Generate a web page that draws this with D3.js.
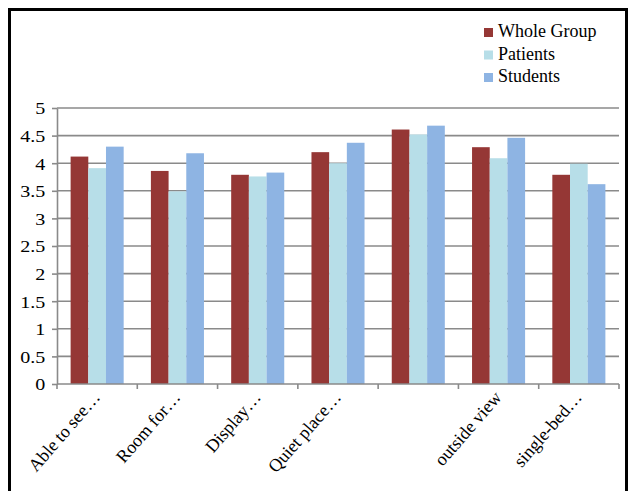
<!DOCTYPE html>
<html>
<head>
<meta charset="utf-8">
<title>Room preferences</title>
<script src="https://cdn.jsdelivr.net/npm/d3@7"></script>
<style type="text/css">
	body { margin: 0; background: #fff; }
	svg text { font-family: "Liberation Serif", "Times New Roman", serif; fill: #000; }
	.grid line { stroke: #8a8a8a; stroke-width: 1.6; }
	.axis path, .axis line { stroke: #8a8a8a; stroke-width: 1.6; }
</style>
</head>
<body>
<script type="text/javascript">
// data
var categories = ['Able to see\u2026', 'Room for\u2026', 'Display\u2026', 'Quiet place\u2026', '', 'outside view', 'single-bed\u2026'];
var seriesNames = ['Whole Group', 'Patients', 'Students'];
var wholeGroup = [4.12, 3.86, 3.79, 4.20, 4.61, 4.29, 3.79];
var patients   = [3.91, 3.49, 3.76, 4.00, 4.52, 4.09, 3.99];
var students   = [4.30, 4.18, 3.83, 4.37, 4.68, 4.46, 3.62];
var yTicks = [0, 0.5, 1, 1.5, 2, 2.5, 3, 3.5, 4, 4.5, 5];
var colors = ['#953735', '#b7dee8', '#8eb4e3'];

var width = 630, height = 491;
// plot box (window.top is reserved, so no "top" here)
var plotLeft = 57, plotRight = 619, plotTop = 108, plotBottom = 384;

var svg = d3.select('body').append('svg')
		.attr('width', width)
		.attr('height', height);

// outer frame, bottom edge runs off the picture
svg.append('rect')
	.attr('x', 9.5).attr('y', 9.5)
	.attr('width', 617).attr('height', 520)
	.attr('fill', 'none')
	.attr('stroke', '#000')
	.attr('stroke-width', 3);

var y = d3.scaleLinear().domain([0, 5]).range([plotBottom, plotTop]);
var x0 = d3.scaleBand().domain(d3.range(categories.length)).range([plotLeft, plotRight]).padding(0);
var x1 = d3.scaleBand().domain(d3.range(seriesNames.length)).range([0, x0.bandwidth()])
		.paddingInner(0).paddingOuter(0.77);

// gridlines
svg.append('g').attr('class', 'grid')
	.selectAll('line')
	.data(yTicks.filter(function(t){ return t > 0; }))
	.enter().append('line')
		.attr('x1', plotLeft).attr('x2', plotRight)
		.attr('y1', function(d){ return y(d); })
		.attr('y2', function(d){ return y(d); });

// bars
var table = categories.map(function(c, i){
	return [wholeGroup[i], patients[i], students[i]];
});

var groups = svg.append('g').selectAll('g')
		.data(table)
	.enter().append('g')
		.attr('transform', function(d, i){ return 'translate(' + x0(i) + ',0)'; });

groups.selectAll('rect')
		.data(function(d){ return d; })
	.enter().append('rect')
		.attr('x', function(d, j){ return x1(j); })
		.attr('width', x1.bandwidth())
		.attr('y', function(d){ return y(d); })
		.attr('height', function(d){ return plotBottom - y(d); })
		.attr('fill', function(d, j){ return colors[j]; });

// y axis
var yAxis = svg.append('g').attr('class', 'axis')
		.attr('transform', 'translate(' + plotLeft + ',0)')
		.call(d3.axisLeft(y).tickValues(yTicks).tickSize(5).tickSizeOuter(0)
			.tickFormat(function(d){ return d; }));
yAxis.selectAll('text')
	.style('font-size', '17px')
	.attr('x', -10)
	.attr('transform', 'scale(1.18,1)')
	.attr('dy', '0.35em');

// x axis: line + ticks at category boundaries
var xAxis = svg.append('g').attr('class', 'axis');
xAxis.append('line')
	.attr('x1', plotLeft).attr('x2', plotRight)
	.attr('y1', plotBottom).attr('y2', plotBottom);
xAxis.selectAll('line.tick')
		.data(d3.range(categories.length + 1))
	.enter().append('line')
		.attr('class', 'tick')
		.attr('x1', function(i){ return plotLeft + i * x0.step(); })
		.attr('x2', function(i){ return plotLeft + i * x0.step(); })
		.attr('y1', plotBottom).attr('y2', plotBottom + 5);

svg.append('g').selectAll('text')
		.data(categories)
	.enter().append('text')
		.attr('text-anchor', 'end')
		.style('font-size', '18px')
		.attr('transform', function(d, i){
			return 'translate(' + (x0(i) + x0.bandwidth() / 2 + 4) + ',' + (plotBottom + 14) + ') rotate(-49)';
		})
		.text(function(d){ return d; });

// legend
var legend = svg.append('g').selectAll('g')
		.data(seriesNames)
	.enter().append('g')
		.attr('transform', function(d, i){ return 'translate(484,' + (28 + i * 22.5) + ')'; });
legend.append('rect')
	.attr('width', 9).attr('height', 9)
	.attr('fill', function(d, i){ return colors[i]; });
legend.append('text')
	.attr('x', 14).attr('y', 9)
	.style('font-size', '18px')
	.text(function(d){ return d; });
</script>
</body>
</html>
